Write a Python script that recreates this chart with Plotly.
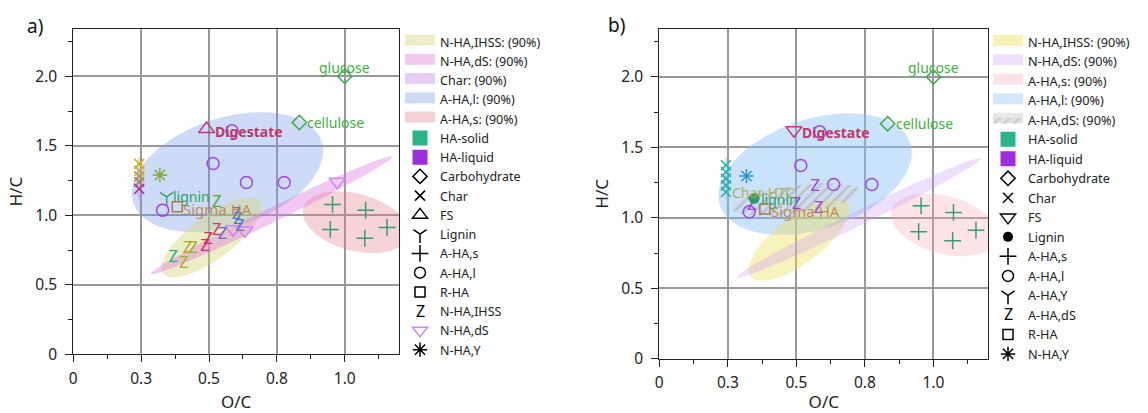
import numpy as np
import plotly.graph_objects as go

W, H = 1148, 413
FONT = "Noto Sans"

# ---------------- axes ----------------
x_tickvals = [0, 0.25, 0.5, 0.75, 1.0]
x_ticktext = ["0", "0.3", "0.5", "0.8", "1.0"]
y_tickvals = [0, 0.5, 1.0, 1.5, 2.0]
y_ticktext = ["0", "0.5", "1.0", "1.5", "2.0"]
x_range = [0, 1.2]
y_range = [0, 2.34]
ASPECT = 0.512  # px per y-unit / px per x-unit

# ---------------- panel a: 90% ellipses ----------------
ell_a_names = ["N-HA,IHSS: (90%)", "N-HA,dS: (90%)", "Char: (90%)", "A-HA,l: (90%)", "A-HA,s: (90%)"]
ell_a_cx = [0.509, 0.73, 0.243, 0.568, 1.04]
ell_a_cy = [0.84, 1.0, 1.26, 1.31, 0.95]
ell_a_a = [0.222, 0.495, 0.082, 0.365, 0.20]
ell_a_b = [0.08, 0.027, 0.011, 0.20, 0.105]
ell_a_ang = [36.6, 25.9, 90, 18, -15]
ell_a_col = ["rgba(212,212,120,0.42)", "rgba(222,120,222,0.40)", "rgba(190,130,232,0.35)",
             "rgba(110,150,228,0.34)", "rgba(228,120,132,0.33)"]
ell_a_swatch = ["#eeecca", "#f0caf0", "#e5cdf4", "#cddbf4", "#f3d0d4"]
ell_a_draw = [3, 4, 0, 1, 2]  # drawing order

# ---------------- panel b: 90% ellipses ----------------
ell_b_names = ["N-HA,IHSS: (90%)", "N-HA,dS: (90%)", "A-HA,s: (90%)", "A-HA,l: (90%)", "A-HA,dS: (90%)"]
ell_b_cx = [0.51, 0.729, 1.04, 0.568, 0.497]
ell_b_cy = [0.845, 1.0, 0.95, 1.31, 1.13]
ell_b_a = [0.222, 0.495, 0.20, 0.365, 0.235]
ell_b_b = [0.085, 0.027, 0.105, 0.20, 0.05]
ell_b_ang = [37, 25.9, -15, 18, 8]
ell_b_col = ["rgba(238,226,90,0.40)", "rgba(200,150,246,0.30)", "rgba(250,170,186,0.32)",
             "rgba(140,190,246,0.45)", "rgba(200,200,200,0.35)"]
ell_b_swatch = ["#f6f1b6", "#efe0fc", "#fde3e7", "#d3e6fb", "rgba(205,205,205,0.45)"]
ell_b_draw = [3, 2, 0, 1, 4]
# faint char band in b (no legend)
charb_cx, charb_cy, charb_a, charb_b, charb_ang = 0.243, 1.28, 0.08, 0.01, 90

# ---------------- panel a: points ----------------
carb_x = [1.0, 0.833]
carb_y = [2.0, 1.667]
char_a_x = [0.243, 0.243, 0.243, 0.243, 0.243]
char_a_y = [1.37, 1.32, 1.28, 1.24, 1.19]
char_a_col = ["#d6b40a", "#ccb030", "#b4a040", "#a87a50", "#a43c98"]
nhay_a_x = [0.319]
nhay_a_y = [1.289]
lignin_a_x = [0.344]
lignin_a_y = [1.133]
ahal_x = [0.329, 0.515, 0.638, 0.777, 0.585]
ahal_y = [1.037, 1.373, 1.236, 1.236, 1.608]
fs_x = [0.491]
fs_y = [1.62]
rha_x = [0.383]
rha_y = [1.061]
ahas_x = [0.955, 1.077, 0.947, 1.074, 1.156]
ahas_y = [1.078, 1.037, 0.898, 0.834, 0.913]
nhads_x = [0.972, 0.589, 0.632]
nhads_y = [1.241, 0.90, 0.89]
nhaihss_x = [0.368, 0.407, 0.421, 0.442, 0.485, 0.497, 0.528, 0.55, 0.601, 0.607, 0.614, 0.528]
nhaihss_y = [0.697, 0.654, 0.755, 0.759, 0.774, 0.822, 0.886, 0.858, 1.001, 0.965, 0.917, 1.086]
nhaihss_col = ["#30a888", "#a8b020", "#a8b020", "#a0ac28", "#d83068", "#d03070", "#c83878",
               "#6868c0", "#5078c8", "#5078c8", "#5878c0", "#58a848"]

# ---------------- panel b: points ----------------
char_b_x = [0.243, 0.243, 0.243, 0.243, 0.243]
char_b_y = [1.373, 1.325, 1.278, 1.23, 1.183]
nhay_b_x = [0.318]
nhay_b_y = [1.296]
lignin_b_x = [0.346]
lignin_b_y = [1.138]
ahal_b_x = [0.328, 0.516, 0.636, 0.775, 0.585]
ahal_b_y = [1.043, 1.371, 1.236, 1.236, 1.61]
fs_b_x = [0.491]
fs_b_y = [1.622]
rha_b_x = [0.385]
rha_b_y = [1.062]
ahas_b_x = [0.955, 1.073, 0.946, 1.070, 1.155]
ahas_b_y = [1.085, 1.038, 0.901, 0.837, 0.912]
ahads_x = [0.569, 0.50, 0.581, 0.337]
ahads_y = [1.22, 1.09, 1.066, 1.085]

# ---------------- layout geometry ----------------
xa_dom = [73.3 / W, 399.0 / W]
ya_dom = [1 - 354.3 / H, 1 - 29.0 / H]
xb_dom = [659.3 / W, 988.3 / W]
yb_dom = [1 - 358.7 / H, 1 - 29.0 / H]
LEG_A_FS, LEG_B_FS = 12.5, 12.7
LEG_TOP = 41.0  # px, centre of first legend row


def ellipse(cx, cy, a, b, ang, n=120):
    t = np.linspace(0, 2 * np.pi, n)
    th = np.radians(ang)
    X = cx + a * np.cos(t) * np.cos(th) - b * np.sin(t) * np.sin(th)
    Y = cy + (a * np.cos(t) * np.sin(th) + b * np.sin(t) * np.cos(th)) / ASPECT
    return X, Y


fig = go.Figure()

# ---- panel a ellipses ----
for i in ell_a_draw:
    ex, ey = ellipse(ell_a_cx[i], ell_a_cy[i], ell_a_a[i], ell_a_b[i], ell_a_ang[i])
    fig.add_trace(go.Scatter(x=ex, y=ey, mode="lines", fill="toself", fillcolor=ell_a_col[i],
                             line=dict(width=0), showlegend=False, xaxis="x", yaxis="y", hoverinfo="skip"))

# ---- panel b ellipses ----
ex, ey = ellipse(charb_cx, charb_cy, charb_a, charb_b, charb_ang)
fig.add_trace(go.Scatter(x=ex, y=ey, mode="lines", fill="toself", fillcolor="rgba(90,200,190,0.30)",
                         line=dict(width=0), showlegend=False, xaxis="x2", yaxis="y2", hoverinfo="skip"))
HATCH = dict(shape="/", fgcolor="rgba(120,120,120,0.55)", bgcolor="rgba(215,215,215,0.35)",
             size=7, solidity=0.35)
for i in ell_b_draw:
    ex, ey = ellipse(ell_b_cx[i], ell_b_cy[i], ell_b_a[i], ell_b_b[i], ell_b_ang[i])
    kw = {"fillpattern": HATCH} if i == 4 else {}
    fig.add_trace(go.Scatter(x=ex, y=ey, mode="lines", fill="toself", fillcolor=ell_b_col[i],
                             line=dict(width=0), showlegend=False, xaxis="x2", yaxis="y2",
                             hoverinfo="skip", **kw))


def pts(x, y, symbol, color, size, xa, ya, lw=1.5):
    return go.Scatter(x=x, y=y, mode="markers", showlegend=False, xaxis=xa, yaxis=ya,
                      marker=dict(symbol=symbol, size=size, color=color,
                                  line=dict(width=lw, color=color)))


def ztext(x, y, color, xa, ya):
    return go.Scatter(x=x, y=y, mode="text", text=["Z"] * len(x), showlegend=False,
                      xaxis=xa, yaxis=ya, textposition="middle center",
                      textfont=dict(size=16.5, color=color, family=FONT))


# ---- panel a points ----
fig.add_trace(pts(carb_x, carb_y, "diamond-open", "#3caa48", 11, "x", "y"))
fig.add_trace(pts(char_a_x, char_a_y, "x-thin-open", char_a_col, 10, "x", "y"))
fig.add_trace(pts(nhay_a_x, nhay_a_y, "asterisk-open", "#80a838", 12, "x", "y"))
fig.add_trace(pts(lignin_a_x, lignin_a_y, "y-down-open", "#30a070", 11, "x", "y"))
fig.add_trace(pts(ahal_x, ahal_y, "circle-open", "#9a48e8", 12, "x", "y"))
fig.add_trace(pts(fs_x, fs_y, "triangle-up-open", "#c83870", 14, "x", "y"))
fig.add_trace(pts(rha_x, rha_y, "square-open", "#b07848", 10, "x", "y"))
fig.add_trace(pts(ahas_x, ahas_y, "cross-thin-open", "#3a9a70", 12, "x", "y"))
fig.add_trace(pts(nhads_x, nhads_y, "triangle-down-open", "#c888f8", 14, "x", "y"))
fig.add_trace(ztext(nhaihss_x, nhaihss_y, nhaihss_col, "x", "y"))

# ---- panel b points ----
fig.add_trace(pts(carb_x, carb_y, "diamond-open", "#3caa48", 11, "x2", "y2"))
fig.add_trace(pts(char_b_x, char_b_y, "x-thin-open", "#28b0b0", 10, "x2", "y2"))
fig.add_trace(pts(nhay_b_x, nhay_b_y, "asterisk-open", "#3090d0", 12, "x2", "y2"))
fig.add_trace(pts(ahal_b_x, ahal_b_y, "circle-open", "#9a48e8", 12, "x2", "y2"))
fig.add_trace(pts(fs_b_x, fs_b_y, "triangle-down-open", "#c83870", 14, "x2", "y2"))
fig.add_trace(pts(rha_b_x, rha_b_y, "square-open", "#b07848", 10, "x2", "y2"))
fig.add_trace(pts(ahas_b_x, ahas_b_y, "cross-thin-open", "#3a9a70", 12, "x2", "y2"))
fig.add_trace(ztext(ahads_x, ahads_y, "#a040d8", "x2", "y2"))
fig.add_trace(pts(lignin_b_x, lignin_b_y, "circle", "#2c9c6c", 11, "x2", "y2", lw=0))

# ---- legend-only entries: ellipse swatches ----
for i, nm in enumerate(ell_a_names):
    fig.add_trace(go.Scatter(x=[None], y=[None], mode="lines", fill="toself", name=nm,
                             fillcolor=ell_a_swatch[i], line=dict(width=10, color=ell_a_swatch[i]),
                             legend="legend", legendrank=i + 1, xaxis="x", yaxis="y"))
for i, nm in enumerate(ell_b_names):
    kw = {"fillpattern": HATCH} if i == 4 else {}
    fig.add_trace(go.Scatter(x=[None], y=[None], mode="lines", fill="toself", name=nm,
                             fillcolor=ell_b_swatch[i], line=dict(width=10, color=ell_b_swatch[i]),
                             legend="legend2", legendrank=i + 1, xaxis="x2", yaxis="y2", **kw))

# ---- legend-only entries: symbols ----
leg_a = [("HA-solid", "square", "#2bb38a", 13, 2),
         ("HA-liquid", "square", "#9b2fe0", 13, 2),
         ("Carbohydrate", "diamond-open", "#000", 11, 1.5),
         ("Char", "x-thin-open", "#000", 10, 1.5),
         ("FS", "triangle-up-open", "#000", 13, 1.5),
         ("Lignin", "y-down-open", "#000", 11, 1.5),
         ("A-HA,s", "cross-thin-open", "#000", 12, 1.5),
         ("A-HA,l", "circle-open", "#000", 11, 1.5),
         ("R-HA", "square-open", "#000", 10, 1.5),
         ("N-HA,IHSS", "circle", "rgba(0,0,0,0)", 10, 0),
         ("N-HA,dS", "triangle-down-open", "#c888f8", 13, 1.5),
         ("N-HA,Y", "asterisk-open", "#000", 12, 1.5)]
leg_b = [("HA-solid", "square", "#2bb38a", 13, 2),
         ("HA-liquid", "square", "#9b2fe0", 13, 2),
         ("Carbohydrate", "diamond-open", "#000", 11, 1.5),
         ("Char", "x-thin-open", "#000", 10, 1.5),
         ("FS", "triangle-down-open", "#000", 13, 1.5),
         ("Lignin", "circle", "#000", 10, 0),
         ("A-HA,s", "cross-thin-open", "#000", 12, 1.5),
         ("A-HA,l", "circle-open", "#000", 11, 1.5),
         ("A-HA,Y", "y-down-open", "#000", 11, 1.5),
         ("A-HA,dS", "circle", "rgba(0,0,0,0)", 10, 0),
         ("R-HA", "square-open", "#000", 10, 1.5),
         ("N-HA,Y", "asterisk-open", "#000", 12, 1.5)]
for k, (nm, sym, col, sz, lw) in enumerate(leg_a):
    fig.add_trace(go.Scatter(x=[None], y=[None], mode="markers", name=nm, legend="legend",
                             legendrank=10 + k, xaxis="x", yaxis="y",
                             marker=dict(symbol=sym, size=sz, color=col, line=dict(width=lw, color=col))))
for k, (nm, sym, col, sz, lw) in enumerate(leg_b):
    fig.add_trace(go.Scatter(x=[None], y=[None], mode="markers", name=nm, legend="legend2",
                             legendrank=10 + k, xaxis="x2", yaxis="y2",
                             marker=dict(symbol=sym, size=sz, color=col, line=dict(width=lw, color=col))))


# ---------------- axes ----------------
def xaxis(dom, anchor):
    return dict(domain=dom, anchor=anchor, range=x_range, tickmode="array", tickvals=x_tickvals,
                ticktext=x_ticktext, showline=True, linecolor="#222", linewidth=1, mirror=True,
                showgrid=True, gridcolor="#999", gridwidth=1.5, zeroline=False, automargin=False,
                ticks="outside", ticklen=7, tickcolor="#222", ticklabelstandoff=3,
                tickfont=dict(size=15.5, color="#222", family=FONT),
                minor=dict(ticks="outside", ticklen=4, dtick=0.125, tick0=0, tickcolor="#222", showgrid=False),
                title=dict(text="O/C", font=dict(size=17, color="#222", family=FONT), standoff=9))


def yaxis(dom, anchor):
    return dict(domain=dom, anchor=anchor, range=y_range, tickmode="array", tickvals=y_tickvals,
                ticktext=y_ticktext, showline=True, linecolor="#222", linewidth=1, mirror=True,
                showgrid=True, gridcolor="#999", gridwidth=1.5, zeroline=False, automargin=False,
                ticks="outside", ticklen=7, tickcolor="#222", ticklabelstandoff=5,
                tickfont=dict(size=15.5, color="#222", family=FONT),
                minor=dict(ticks="outside", ticklen=4, dtick=0.25, tick0=0, tickcolor="#222", showgrid=False),
                title=dict(text="H/C", font=dict(size=17, color="#222", family=FONT), standoff=8))


ann = []
labels = [
    ("glucose", carb_x[0], carb_y[0], "#40b040", 14, "center", 0, 9, "normal"),
    ("cellulose", carb_x[1], carb_y[1], "#40b040", 14, "left", 6, 0, "normal"),
    ("Digestate", fs_x[0], fs_y[0], "#c03868", 14, "left", 6, -2, "bold"),
    ("lignin", lignin_a_x[0], lignin_a_y[0], "#30a070", 14, "left", 4, 0, "normal"),
    ("Sigma HA", rha_x[0], rha_y[0], "rgba(192,128,72,0.9)", 15, "left", 4, -2, "normal"),
]
for txt, x, y, col, sz, xan, xs, ys, wt in labels:
    ann.append(dict(text=txt, x=x, y=y, xref="x", yref="y", showarrow=False, xanchor=xan, xshift=xs,
                    yshift=ys, font=dict(size=sz, color=col, family=FONT, weight=wt)))
labels_b = [
    ("glucose", carb_x[0], carb_y[0], "#40b040", 14, "center", 0, 9, "normal"),
    ("cellulose", carb_x[1], carb_y[1], "#40b040", 14, "left", 6, 0, "normal"),
    ("Digestate", fs_b_x[0], fs_b_y[0], "#c03868", 14, "left", 6, -2, "bold"),
    ("Char-HTC", char_b_x[4], char_b_y[4], "rgba(170,170,70,0.9)", 14, "left", 4, 0, "normal"),
    ("lignin", lignin_b_x[0], lignin_b_y[0], "#30a070", 14, "left", 5, -1, "normal"),
    ("Sigma HA", rha_b_x[0], rha_b_y[0], "rgba(192,128,72,0.9)", 15, "left", 4, -2, "normal"),
]
for txt, x, y, col, sz, xan, xs, ys, wt in labels_b:
    ann.append(dict(text=txt, x=x, y=y, xref="x2", yref="y2", showarrow=False, xanchor=xan, xshift=xs,
                    yshift=ys, font=dict(size=sz, color=col, family=FONT, weight=wt)))
# panel tags
ann.append(dict(text="a)", x=35 / W, y=1 - 26 / H, xref="paper", yref="paper", showarrow=False,
                xanchor="center", yanchor="middle", font=dict(size=19, color="#111", family=FONT)))
ann.append(dict(text="b)", x=616 / W, y=1 - 25 / H, xref="paper", yref="paper", showarrow=False,
                xanchor="center", yanchor="middle", font=dict(size=19, color="#111", family=FONT)))
# "Z" glyphs in legend symbol slots (row 15 of each legend)
row_a = LEG_TOP + 14 * (LEG_A_FS * 1.3 + 3)
row_b = LEG_TOP + 14 * (LEG_B_FS * 1.3 + 3)
ann.append(dict(text="Z", x=420 / W, y=1 - row_a / H, xref="paper", yref="paper", showarrow=False,
                xanchor="center", yanchor="middle", font=dict(size=16, color="#000", family=FONT)))
ann.append(dict(text="Z", x=1008 / W, y=1 - row_b / H, xref="paper", yref="paper", showarrow=False,
                xanchor="center", yanchor="middle", font=dict(size=16, color="#000", family=FONT)))

legend_common = dict(bgcolor="rgba(0,0,0,0)", borderwidth=0, yanchor="top", xanchor="left", itemclick=False)

fig.update_layout(
    width=W, height=H, margin=dict(l=0, r=0, t=0, b=0, autoexpand=False),
    paper_bgcolor="white", plot_bgcolor="white",
    font=dict(family=FONT, color="#222"),
    xaxis=xaxis(xa_dom, "y"), yaxis=yaxis(ya_dom, "x"),
    xaxis2=xaxis(xb_dom, "y2"), yaxis2=yaxis(yb_dom, "x2"),
    legend=dict(x=400 / W, y=1 - 27 / H, font=dict(size=LEG_A_FS, color="#222", family=FONT), **legend_common),
    legend2=dict(x=988 / W, y=1 - 27 / H, font=dict(size=LEG_B_FS, color="#222", family=FONT), **legend_common),
    annotations=ann,
)

fig.write_html("out.html")
